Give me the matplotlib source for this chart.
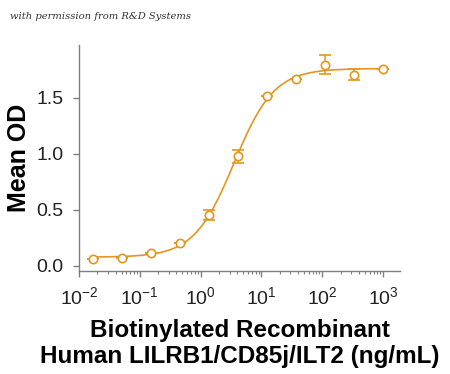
import numpy as np
import matplotlib
matplotlib.use("Agg")
import matplotlib.pyplot as plt
from matplotlib.ticker import LogLocator, NullFormatter

plt.rcParams['font.family'] = ['Liberation Sans', 'DejaVu Sans']
plt.rcParams['mathtext.fontset'] = 'custom'
plt.rcParams['mathtext.rm'] = 'Liberation Sans'
plt.rcParams['axes.unicode_minus'] = False

# concentration (ng/mL), 3-fold dilution series
conc = [0.0169, 0.0508, 0.152, 0.457, 1.37, 4.12, 12.3, 37.0, 111.0, 333.0, 1000.0]
mean_od = [0.060, 0.071, 0.119, 0.208, 0.455, 0.976, 1.518, 1.667, 1.795, 1.705, 1.760]
od_err = [0.0, 0.0, 0.0, 0.0, 0.042, 0.054, 0.0, 0.0, 0.087, 0.047, 0.0]

y_ticks = [0.0, 0.5, 1.0, 1.5]
color = '#E3971F'


def four_pl(x, p):
	bottom, top, log_ec50, hill = p
	return bottom + (top - bottom) / (1 + 10 ** ((log_ec50 - np.log10(x)) * hill))


def fit_four_pl(x, y):
	# plain damped Gauss-Newton, good enough for a smooth sigmoid
	p = np.array([min(y), max(y), np.median(np.log10(x)), 1.0])
	lam = 1e-3
	for _ in range(200):
		r = y - four_pl(x, p)
		J = np.zeros((len(x), 4))
		for k in range(4):
			dp = np.zeros(4)
			dp[k] = 1e-6
			J[:, k] = (four_pl(x, p + dp) - four_pl(x, p)) / 1e-6
		A = J.T @ J
		step = np.linalg.solve(A + lam * np.diag(np.diag(A)), J.T @ r)
		p_new = p + step
		if np.sum((y - four_pl(x, p_new)) ** 2) < np.sum(r ** 2):
			p = p_new
			lam *= 0.5
		else:
			lam *= 4
	return p


x = np.array(conc)
y = np.array(mean_od)
params = fit_four_pl(x, y)
x_fit = np.logspace(np.log10(x.min()), np.log10(x.max()), 300)

fig = plt.figure(figsize=(4.5, 3.74), dpi=100)
ax = fig.add_axes([0.1756, 0.2754, 0.7134, 0.6043])

ax.plot(x_fit, four_pl(x_fit, params), color=color, lw=1.2, zorder=2)
ax.errorbar(x, y, yerr=od_err, fmt='o', ms=6, mfc='white', mec=color, mew=1.2,
			ecolor=color, elinewidth=1.1, capsize=4, capthick=1.1, zorder=3)

ax.set_xscale('log')
ax.set_xlim(0.01, 1900)
ax.set_ylim(-0.045, 1.97)
ax.set_yticks(y_ticks)
ax.set_yticklabels(['%.1f' % v for v in y_ticks])
ax.xaxis.set_major_locator(LogLocator(base=10, numticks=10))
ax.xaxis.set_minor_locator(LogLocator(base=10, subs=np.arange(2, 10), numticks=20))
ax.xaxis.set_minor_formatter(NullFormatter())

for side in ['top', 'right']:
	ax.spines[side].set_visible(False)
for side in ['left', 'bottom']:
	ax.spines[side].set_color('#7f7f7f')
	ax.spines[side].set_linewidth(1.0)

ax.tick_params(which='major', direction='out', length=4, width=1, color='#7f7f7f',
			   labelsize=14, pad=7, labelcolor='#222222')
ax.tick_params(which='minor', direction='out', length=2.5, width=0.8, color='#7f7f7f')

ax.set_ylabel('Mean OD', fontsize=18, fontweight='bold', labelpad=4)
ax.set_xlabel('Biotinylated Recombinant\nHuman LILRB1/CD85j/ILT2 (ng/mL)',
			  fontsize=17.5, fontweight='bold', labelpad=8, linespacing=1.15)

fig.text(0.022, 0.955, 'with permission from R&D Systems', fontsize=7.2,
		 family='DejaVu Serif', style='italic', color='#333333', va='center')

fig.savefig('out.png', dpi=100)
